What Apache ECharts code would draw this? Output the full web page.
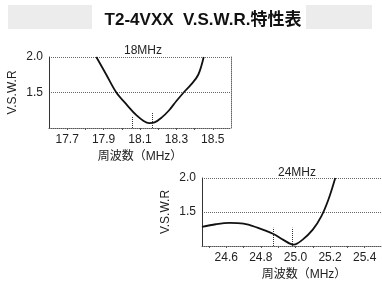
<!DOCTYPE html>
<html>
<head>
<meta charset="utf-8">
<script src="https://cdn.jsdelivr.net/npm/echarts@6/dist/echarts.min.js"></script>
<style>
  html, body { margin: 0; padding: 0; background: #fff; }
  #main { width: 382px; height: 282px; }
</style>
</head>
<body>
<div id="main"></div>
<script>
// 18MHz 帯の測定値 [周波数, V.S.W.R]
var band18 = [
  [17.86, 2.00], [17.915, 1.75], [17.97, 1.50], [18.03, 1.32], [18.08, 1.18],
  [18.12, 1.10], [18.15, 1.07], [18.18, 1.08], [18.22, 1.15], [18.26, 1.25],
  [18.30, 1.38], [18.34, 1.50], [18.38, 1.61], [18.42, 1.75], [18.45, 2.00]
];
// 24MHz 帯の測定値
var band24 = [
  [24.46, 1.28], [24.54, 1.32], [24.62, 1.34], [24.70, 1.33], [24.78, 1.27],
  [24.87, 1.18], [24.93, 1.09], [24.99, 1.02], [25.04, 1.09], [25.10, 1.24],
  [25.15, 1.44], [25.19, 1.68], [25.23, 2.00]
];
// 縦の点線マーカー [周波数, 高さ]
var marks18 = [[18.06, 1.16], [18.17, 1.21]];
var marks24 = [[24.87, 1.27], [24.98, 1.27]];

var labels18 = [17.7, 17.9, 18.1, 18.3, 18.5];
var ticks18 = [17.7, 17.8, 17.9, 18.0, 18.1, 18.2, 18.3, 18.4, 18.5];
var labels24 = [24.6, 24.8, 25.0, 25.2, 25.4];
var ticks24 = [24.5, 24.6, 24.7, 24.8, 24.9, 25.0, 25.1, 25.2, 25.3, 25.4];

var font = "'Liberation Sans', Arial, 'Noto Sans CJK JP', sans-serif";

function xAxisOf(idx, min, max, labels, ticks, shift) {
  return {
    type: 'value', gridIndex: idx, min: min, max: max,
    name: '周波数（MHz）', nameLocation: 'middle', nameGap: 23,
    nameTextStyle: { color: '#222', fontSize: 12, fontFamily: font, padding: [0, 0, 0, shift] },
    axisLine: { lineStyle: { color: '#555', type: 'dotted', width: 1 } },
    axisTick: { customValues: ticks, length: 2, lineStyle: { color: '#555' } },
    axisLabel: {
      customValues: labels, color: '#222', fontSize: 12, fontFamily: font, margin: 6,
      formatter: function (v) { return v.toFixed(1); }
    },
    splitLine: { show: false }
  };
}

function yAxisOf(idx) {
  return {
    type: 'value', gridIndex: idx, min: 1, max: 2, interval: 0.5,
    name: 'V.S.W.R', nameLocation: 'middle', nameGap: 30, nameRotate: 90,
    nameTextStyle: { color: '#222', fontSize: 12, fontFamily: font },
    axisLine: { show: true, lineStyle: { color: '#333', width: 1 } },
    axisTick: { show: false },
    axisLabel: {
      color: '#222', fontSize: 12, fontFamily: font, margin: 6,
      formatter: function (v) { return v === 1 ? '' : v.toFixed(1); }
    },
    splitLine: { show: true, lineStyle: { color: '#666', type: 'dotted', width: 1 } }
  };
}

function markSeries(idx, marks) {
  return {
    type: 'line', xAxisIndex: idx, yAxisIndex: idx, data: [], silent: true,
    markLine: {
      symbol: 'none', silent: true, label: { show: false },
      lineStyle: { color: '#333', type: 'dotted', width: 1 },
      data: marks.map(function (m) { return [{ coord: [m[0], 1] }, { coord: [m[0], m[1]] }]; })
    }
  };
}

var myChart = echarts.init(document.getElementById('main'));

var option = {
  backgroundColor: '#fff',
  animation: false,
  graphic: [
    { type: 'rect', shape: { x: 8, y: 5, width: 84, height: 24 }, style: { fill: '#ececec' }, silent: true },
    { type: 'rect', shape: { x: 306, y: 5, width: 66, height: 24 }, style: { fill: '#ececec' }, silent: true }
  ],
  title: [
    { text: 'T2-4VXX  V.S.W.R.特性表', left: 198, top: 7, textAlign: 'center',
      textStyle: { fontSize: 17, fontWeight: 'bold', color: '#111', fontFamily: font } },
    { text: '18MHz', left: 138, top: 40, textAlign: 'center',
      textStyle: { fontSize: 12, fontWeight: 'normal', color: '#222', fontFamily: font } },
    { text: '24MHz', left: 292, top: 162, textAlign: 'center',
      textStyle: { fontSize: 12, fontWeight: 'normal', color: '#222', fontFamily: font } }
  ],
  grid: [
    { left: 49, top: 57, width: 182, height: 71 },
    { left: 202, top: 178, right: 0, height: 71 }
  ],
  xAxis: [
    xAxisOf(0, 17.6, 18.6, labels18, ticks18, 0),
    xAxisOf(1, 24.46, 25.5, labels24, ticks24, 24)
  ],
  yAxis: [
    yAxisOf(0),
    yAxisOf(1),
    {
      type: 'value', gridIndex: 0, min: 1, max: 2, position: 'right',
      axisLine: { show: true, lineStyle: { color: '#666', type: 'dotted', width: 1 } },
      axisTick: { show: false }, axisLabel: { show: false }, splitLine: { show: false }
    }
  ],
  series: [
    { type: 'line', xAxisIndex: 0, yAxisIndex: 0, data: band18, smooth: 0.35,
      showSymbol: false, lineStyle: { color: '#111', width: 1.8 } },
    { type: 'line', xAxisIndex: 1, yAxisIndex: 1, data: band24, smooth: 0.35,
      showSymbol: false, lineStyle: { color: '#111', width: 1.8 } },
    markSeries(0, marks18),
    markSeries(1, marks24)
  ]
};

myChart.setOption(option);
</script>
</body>
</html>
